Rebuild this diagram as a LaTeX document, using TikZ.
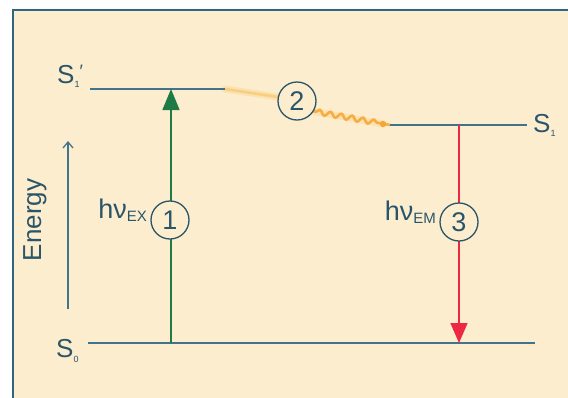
\documentclass[tikz,border=0pt]{standalone}
\usepackage{fontspec}
\setmainfont{Liberation Sans}
\usetikzlibrary{arrows.meta,decorations.pathmorphing}

\definecolor{cream}{HTML}{FDEDCF}
\definecolor{framec}{HTML}{2F6783}
\definecolor{levelblue}{HTML}{41738B}
\definecolor{ink}{HTML}{2A5569}
\definecolor{exgreen}{HTML}{1E7B45}
\definecolor{emred}{HTML}{EC2842}
\definecolor{relaxa}{HTML}{F8CF7E}
\definecolor{relaxb}{HTML}{F4A535}

\begin{document}
\begin{tikzpicture}[x=1pt,y=-1pt,
  level/.style={draw=levelblue,line width=1.7pt},
  statelab/.style={text=ink,inner sep=0pt,font=\fontsize{26}{26}\selectfont},
  hvlab/.style={text=ink,inner sep=0pt,font=\fontsize{27}{27}\selectfont},
  num/.style={circle,draw=ink,line width=1.3pt,fill=cream,minimum size=38pt,
    inner sep=0pt,text=ink,font=\fontsize{27}{27}\selectfont},
  exarrow/.style={draw=exgreen,line width=1.5pt,-{Triangle[length=21pt,width=17pt]}},
  emarrow/.style={draw=emred,line width=1.5pt,-{Triangle[length=20pt,width=17pt]}},
  relaxpath/.style={draw=relaxa,line width=2.6pt,line cap=round},
  relaxglow/.style={draw=relaxa,line width=7pt,line cap=round,draw opacity=0.35}]

% page and framed panel
\useasboundingbox (0,0) rectangle (568,397);
\fill[white] (0,0) rectangle (568,397);
\filldraw[fill=cream,draw=framec,line width=2.4pt]
  (600,10) -- (13,10) -- (13,430) -- (600,430);

% level end points
\coordinate (s1pL) at (90,89);
\coordinate (s1pR) at (225,89);
\coordinate (s1L) at (390,125);
\coordinate (s1R) at (527,125);
\coordinate (s0L) at (88,343);
\coordinate (s0R) at (535,343);
\coordinate (exBot) at (171,343);
\coordinate (exTop) at (171,89);
\coordinate (emTop) at (459,125);
\coordinate (emBot) at (459,343);
\coordinate (enBot) at (68,309);
\coordinate (enTop) at (68,141);
\coordinate (c2in) at (278,97);
\coordinate (c2out) at (312,111);

% vibrational relaxation (2)
\draw[relaxglow] (s1pR) -- (c2in);
\draw[relaxglow] (c2out) -- (383,124);
\draw[relaxpath] (s1pR) -- (c2in);
\draw[relaxpath,draw=relaxb!80!relaxa,
  decorate,decoration={snake,amplitude=2.5pt,segment length=11pt,pre length=4pt,post length=8pt}]
  (c2out) -- (s1L);
\fill[relaxb] (383,124) circle (3.2pt);

% energy levels
\draw[level] (s1pL) -- (s1pR);
\draw[level] (s1L) -- (s1R);
\draw[level] (s0L) -- (s0R);

% excitation and emission
\draw[exarrow] (exBot) -- (exTop);
\draw[emarrow] (emTop) -- (emBot);

% energy axis
\draw[draw=levelblue,line width=1.3pt,-{Straight Barb[length=6pt,width=10pt]}] (enBot) -- (enTop);
\node[statelab,rotate=90] (energy) at (35,220) {Energy};

% level labels
\node[statelab,anchor=base west] (lS1p) at (57,83)
  {S\raisebox{-4pt}{\fontsize{9}{9}\selectfont 1}\raisebox{6pt}{\fontsize{18}{18}\selectfont ′}};
\node[statelab,anchor=base west] (lS1) at (533,132)
  {S\raisebox{-4pt}{\fontsize{9}{9}\selectfont 1}};
\node[statelab,anchor=base west] (lS0) at (56,357)
  {S\raisebox{-5pt}{\fontsize{9}{9}\selectfont 0}};

% step numbers
\node[num] (n1) at (170,220) {1};
\node[num] (n2) at (297,101) {2};
\node[num] (n3) at (459,222) {3};

% photon labels
\node[hvlab,anchor=base east] (hvex) at (147,218)
  {hν\raisebox{-3pt}{\fontsize{15}{15}\selectfont EX}};
\node[hvlab,anchor=base east] (hvem) at (436,220)
  {hν\raisebox{-3pt}{\fontsize{15}{15}\selectfont EM}};
\end{tikzpicture}
\end{document}
